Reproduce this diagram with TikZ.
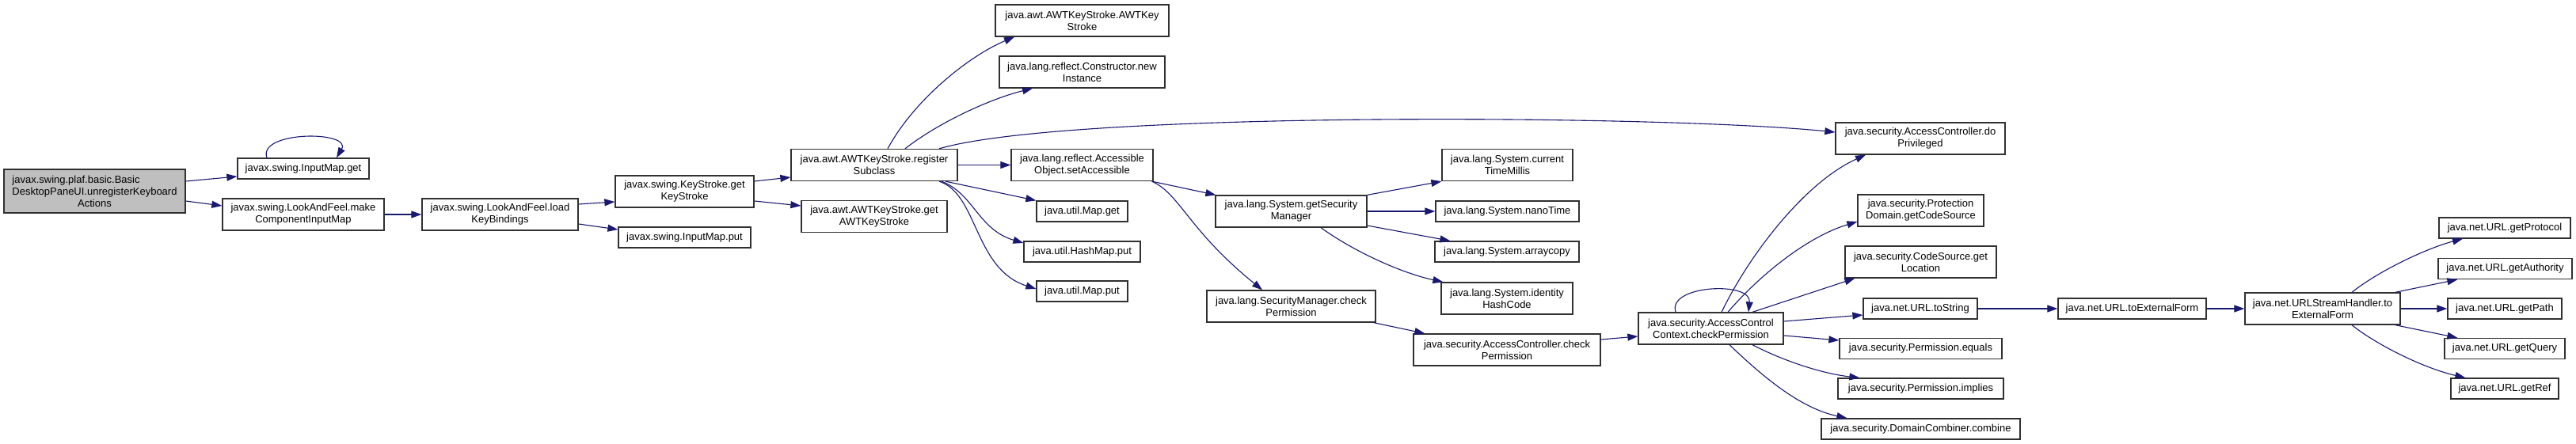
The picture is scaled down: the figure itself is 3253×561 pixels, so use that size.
\documentclass[tikz,border=0pt]{standalone}
\usepackage{fontspec}
\setmainfont{Liberation Sans}
\usepackage{calc}
\usetikzlibrary{arrows.meta}
\definecolor{edgeblue}{HTML}{191970}
\definecolor{mainfill}{HTML}{BFBFBF}
\definecolor{boxline}{HTML}{303030}
\begin{document}
\begin{tikzpicture}[x=1pt,y=-1pt,
  fn/.style={draw=boxline, line width=1.3pt, fill=white, inner sep=0pt, align=center,
     font=\fontsize{13}{15}\selectfont},
  one/.style={minimum height=26pt},
  two/.style={minimum height=40pt},
  edg/.style={draw=edgeblue, line width=1.1pt, -{Triangle[length=13pt,width=9pt]}},
]
\useasboundingbox[fill=white] (0,0) rectangle (3253,561);

% nodes
\node[fn, fill=mainfill, minimum width=229pt, minimum height=55pt] (main) at (119.5,241.5)
  {\makebox[\widthof{DesktopPaneUI.unregisterKeyboard}][l]{javax.swing.plaf.basic.Basic}\\
   \makebox[\widthof{DesktopPaneUI.unregisterKeyboard}][l]{DesktopPaneUI.unregisterKeyboard}\\Actions};
\node[fn, one, minimum width=166pt] (imget) at (383,213) {javax.swing.InputMap.get};
\node[fn, two, minimum width=204pt] (mkmap) at (383,271) {javax.swing.LookAndFeel.make\\ComponentInputMap};
\node[fn, two, minimum width=197pt] (loadkb) at (631.5,271) {javax.swing.LookAndFeel.load\\KeyBindings};
\node[fn, two, minimum width=175pt] (ksget) at (864.5,242) {javax.swing.KeyStroke.get\\KeyStroke};
\node[fn, one, minimum width=167pt] (improw) at (864.5,300) {javax.swing.InputMap.put};
\node[fn, two, minimum width=210pt] (regsub) at (1104,208.5) {java.awt.AWTKeyStroke.register\\Subclass};
\node[fn, two, minimum width=184pt] (getawt) at (1104,273.5) {java.awt.AWTKeyStroke.get\\AWTKeyStroke};
\node[fn, two, minimum width=219pt] (awtks) at (1366.5,26) {java.awt.AWTKeyStroke.AWTKey\\Stroke};
\node[fn, two, minimum width=209pt] (newinst) at (1366.5,91) {java.lang.reflect.Constructor.new\\Instance};
\node[fn, two, minimum width=179pt] (setacc) at (1366.5,208.5) {java.lang.reflect.Accessible\\Object.setAccessible};
\node[fn, one, minimum width=115pt] (mapget) at (1366.5,267) {java.util.Map.get};
\node[fn, one, minimum width=147pt] (hashput) at (1366.5,318) {java.util.HashMap.put};
\node[fn, one, minimum width=115pt] (mapput) at (1366.5,368) {java.util.Map.put};
\node[fn, two, minimum width=191pt] (getsm) at (1630.5,267) {java.lang.System.getSecurity\\Manager};
\node[fn, two, minimum width=213pt] (smcheck) at (1630.5,387) {java.lang.SecurityManager.check\\Permission};
\node[fn, two, minimum width=165pt] (ctm) at (1903.5,208.5) {java.lang.System.current\\TimeMillis};
\node[fn, one, minimum width=181pt] (nano) at (1903.5,267) {java.lang.System.nanoTime};
\node[fn, one, minimum width=182pt] (arrcp) at (1903,318) {java.lang.System.arraycopy};
\node[fn, two, minimum width=166pt] (ihc) at (1903,377) {java.lang.System.identity\\HashCode};
\node[fn, two, minimum width=236pt] (accheck) at (1903,442) {java.security.AccessController.check\\Permission};
\node[fn, two, minimum width=183pt] (accctx) at (2160.5,415) {java.security.AccessControl\\Context.checkPermission};
\node[fn, two, minimum width=214pt] (dopriv) at (2425,175) {java.security.AccessController.do\\Privileged};
\node[fn, two, minimum width=159pt] (pdgcs) at (2425.5,266) {java.security.Protection\\Domain.getCodeSource};
\node[fn, two, minimum width=191pt] (csgl) at (2425.5,331) {java.security.CodeSource.get\\Location};
\node[fn, one, minimum width=144pt] (urlts) at (2425,390) {java.net.URL.toString};
\node[fn, one, minimum width=205pt] (permeq) at (2425.5,440.5) {java.security.Permission.equals};
\node[fn, one, minimum width=209pt] (permimp) at (2425.5,491) {java.security.Permission.implies};
\node[fn, one, minimum width=251pt] (dccomb) at (2425.5,542) {java.security.DomainCombiner.combine};
\node[fn, one, minimum width=187pt] (urltef) at (2692.5,390) {java.net.URL.toExternalForm};
\node[fn, two, minimum width=196pt] (ushtef) at (2933,390) {java.net.URLStreamHandler.to\\ExternalForm};
\node[fn, one, minimum width=166pt] (uprot) at (3163,288) {java.net.URL.getProtocol};
\node[fn, one, minimum width=169pt] (uauth) at (3163.5,339.5) {java.net.URL.getAuthority};
\node[fn, one, minimum width=144pt] (upath) at (3163,390) {java.net.URL.getPath};
\node[fn, one, minimum width=152pt] (uquery) at (3163,440.5) {java.net.URL.getQuery};
\node[fn, one, minimum width=136pt] (uref) at (3163,491) {java.net.URL.getRef};

% edges
\draw[edg] ([yshift=12.5pt]main.east) -- ([yshift=-10pt]imget.west);
\draw[edg] ([yshift=-12.5pt]main.east) -- ([yshift=11pt]mkmap.west);
\draw[edg] ([xshift=-46pt]imget.north) .. controls (325,165) and (445,165) .. ([xshift=42pt]imget.north);
\draw[edg] (mkmap.east) -- (loadkb.west);
\draw[edg] ([yshift=13pt]loadkb.east) -- ([yshift=-13pt]ksget.west);
\draw[edg] ([yshift=-12pt]loadkb.east) -- ([yshift=10pt]improw.west);
\draw[edg] ([yshift=13pt]ksget.east) -- ([yshift=-15.5pt]regsub.west);
\draw[edg] ([yshift=-12pt]ksget.east) -- ([yshift=13.5pt]getawt.west);
\draw[edg] ([xshift=17pt]regsub.north) .. controls (1155,125) and (1225,70) .. ([xshift=-85.5pt]awtks.south);
\draw[edg] ([xshift=39pt]regsub.north) .. controls (1185,155) and (1250,125) .. ([xshift=-62.5pt]newinst.south);
\draw[edg] ([xshift=82pt]regsub.north) .. controls (1350,140) and (2100,145) .. ([yshift=8pt]dopriv.west);
\draw[edg] (regsub.east) -- (setacc.west);
\draw[edg] ([xshift=90pt]regsub.south) -- (mapget.north west);
\draw[edg] ([xshift=85pt]regsub.south) .. controls (1230,245) and (1235,290) .. ([yshift=11pt]hashput.west);
\draw[edg] ([xshift=82pt]regsub.south) .. controls (1235,245) and (1230,340) .. ([yshift=3pt]mapput.west);
\draw[edg] ([xshift=-2pt]setacc.south east) -- ([xshift=1pt]getsm.north west);
\draw[edg] ([xshift=-2pt]setacc.south east) .. controls (1490,245) and (1500,290) .. ([xshift=-36.5pt]smcheck.north);
\draw[edg] (getsm.north east) -- (ctm.south west);
\draw[edg] (getsm.east) -- (nano.west);
\draw[edg] ([yshift=-18pt]getsm.east) -- ([xshift=20pt]arrcp.north west);
\draw[edg] ([xshift=37.5pt]getsm.south) .. controls (1710,318) and (1770,345) .. ([xshift=3pt]ihc.north west);
\draw[edg] ([xshift=-3pt]smcheck.south east) -- ([xshift=15pt]accheck.north west);
\draw[edg] ([yshift=13pt]accheck.east) -- ([yshift=-10pt]accctx.west);
\draw[edg] ([xshift=-44.5pt]accctx.north) .. controls (2105,360) and (2212,355) .. ([xshift=47.5pt]accctx.north);
\draw[edg] ([xshift=13.5pt]accctx.north) .. controls (2210,320) and (2280,230) .. ([xshift=-69pt]dopriv.south);
\draw[edg] ([xshift=21.5pt]accctx.north) .. controls (2220,350) and (2280,300) .. ([yshift=-14pt]pdgcs.west);
\draw[edg] ([xshift=52.5pt]accctx.north) -- ([xshift=13pt]csgl.south west);
\draw[edg] ([yshift=9pt]accctx.east) -- ([yshift=-8pt]urlts.west);
\draw[edg] ([yshift=-9pt]accctx.east) -- ([yshift=10.5pt]permeq.west);
\draw[edg] ([xshift=52.5pt]accctx.south) .. controls (2250,455) and (2300,472) .. ([xshift=28pt]permimp.north west);
\draw[edg] ([xshift=23.5pt]accctx.south) .. controls (2220,470) and (2270,515) .. ([xshift=33pt]dccomb.north west);
\draw[edg] (urlts.east) -- (urltef.west);
\draw[edg] (urltef.east) -- (ushtef.west);
\draw[edg] ([xshift=37pt]ushtef.north) .. controls (3000,345) and (3060,315) .. ([xshift=-53pt]uprot.south);
\draw[edg] ([xshift=-7pt]ushtef.north east) -- ([xshift=25pt]uauth.south west);
\draw[edg] (ushtef.east) -- (upath.west);
\draw[edg] ([xshift=-7pt]ushtef.south east) -- ([xshift=17pt]uquery.north west);
\draw[edg] ([xshift=37pt]ushtef.south) .. controls (3000,435) and (3060,465) .. ([xshift=19pt]uref.north west);
\end{tikzpicture}
\end{document}
